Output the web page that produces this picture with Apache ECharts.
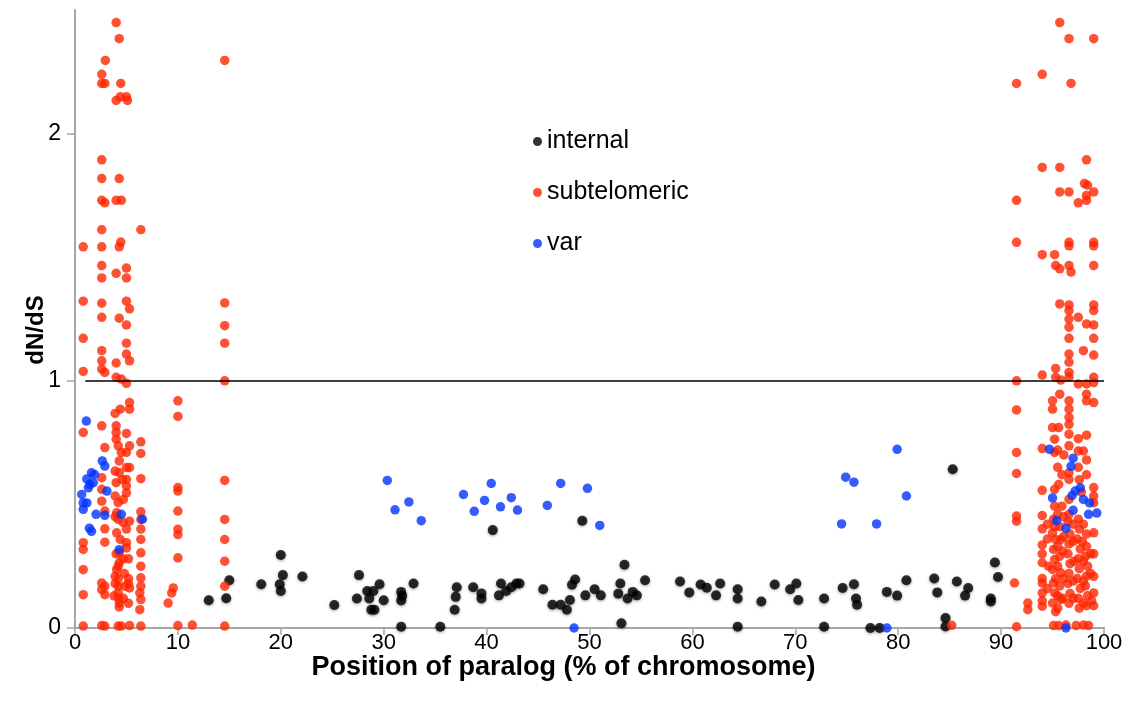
<!DOCTYPE html>
<html>
<head>
<meta charset="utf-8">
<script src="https://cdn.jsdelivr.net/npm/echarts@6/dist/echarts.min.js"></script>
<style>
html,body{margin:0;padding:0;background:#fff;}
#chart{width:1133px;height:709px;}
</style>
</head>
<body>
<div id="chart"></div>
<script>
// ---- Data (x: position of paralog, % of chromosome; y: dN/dS) ----
var seriesNames = ['internal', 'subtelomeric', 'var'];
var xTicks = [0, 10, 20, 30, 40, 50, 60, 70, 80, 90, 100];
var yTicks = [0, 1, 2];
var thresholdLine = [[1, 1], [100, 1]];

var internalData = [
  [13.0,0.112],[14.7,0.12],[15.0,0.193],[18.1,0.177],[20.0,0.295],[20.2,0.214],[19.9,0.177],[20.0,0.15],[22.1,0.208],
  [25.2,0.093],[27.6,0.214],[27.4,0.119],[28.4,0.15],[29.0,0.15],[29.6,0.177],[28.6,0.119],[28.8,0.074],[29.1,0.074],
  [30.0,0.112],[31.7,0.146],[31.7,0.111],[31.8,0.13],[31.7,0.005],[32.9,0.18],[35.5,0.005],[37.1,0.165],[37.0,0.126],
  [36.9,0.074],[38.7,0.165],[39.5,0.14],[39.5,0.119],[40.6,0.396],[41.4,0.18],[41.2,0.132],[41.9,0.15],[42.4,0.165],
  [42.9,0.18],[43.2,0.18],[45.5,0.157],[46.4,0.094],[47.2,0.094],[47.8,0.074],[48.1,0.113],[48.3,0.175],[48.6,0.196],
  [49.3,0.434],[49.6,0.132],[50.5,0.157],[51.1,0.132],[52.8,0.139],[53.0,0.18],[53.4,0.256],[53.1,0.019],[53.7,0.119],
  [54.2,0.146],[54.6,0.132],[55.4,0.193],[58.8,0.188],[59.7,0.144],[60.8,0.176],[61.4,0.163],[62.3,0.132],[62.7,0.18],
  [64.4,0.157],[64.4,0.119],[64.4,0.005],[66.7,0.107],[68.0,0.176],[69.5,0.157],[70.1,0.18],[70.3,0.113],[72.8,0.119],
  [72.8,0.005],[74.6,0.162],[75.7,0.177],[75.9,0.119],[76.0,0.094],[77.3,0.0],[78.2,0.0],[78.9,0.146],[79.9,0.131],
  [80.8,0.193],[83.5,0.2],[83.8,0.144],[84.6,0.04],[84.6,0.006],[85.3,0.642],[85.7,0.188],[86.8,0.162],[86.5,0.131],
  [89.0,0.119],[89.0,0.107],[89.4,0.265],[89.7,0.206]
];

var subtelomericData = [
  // left end of chromosome
  [4.0,2.449],[4.3,2.384],[2.95,2.296],[14.55,2.296],[2.6,2.24],[2.6,2.203],[2.9,2.203],[4.45,2.203],[4.0,2.134],
  [4.4,2.149],[5.0,2.149],[5.1,2.134],[2.6,1.894],[2.6,1.818],[4.3,1.818],[2.6,1.73],[2.9,1.72],[4.0,1.73],[4.5,1.73],
  [2.6,1.611],[6.4,1.611],[0.8,1.542],[2.6,1.542],[4.3,1.542],[4.45,1.561],[2.6,1.466],[2.6,1.416],[4.0,1.435],
  [5.0,1.456],[5.0,1.416],[0.8,1.322],[2.6,1.314],[5.0,1.322],[5.3,1.291],[14.55,1.315],[2.6,1.257],[4.3,1.253],
  [5.0,1.226],[14.55,1.223],[0.8,1.172],[14.55,1.152],[5.0,1.152],[2.6,1.122],[2.6,1.081],[5.0,1.108],[5.3,1.081],
  [4.0,1.072],[0.8,1.038],[2.6,1.047],[2.9,1.034],[4.0,1.014],[4.5,1.007],[5.0,0.99],[14.55,1.0],[5.3,0.912],
  [5.3,0.885],[10.0,0.919],[10.0,0.856],[4.4,0.885],[3.9,0.868],[2.6,0.818],[0.8,0.791],[4.0,0.818],[4.0,0.791],
  [5.0,0.787],[4.0,0.764],[4.2,0.737],[5.3,0.737],[6.4,0.753],[6.4,0.706],[2.9,0.73],[5.0,0.71],[4.5,0.71],
  [4.3,0.676],[5.0,0.649],[5.3,0.649],[3.9,0.635],[4.3,0.628],[6.4,0.604],[5.0,0.601],[2.6,0.608],[4.0,0.588],
  [5.0,0.574],[5.0,0.547],[2.6,0.561],[10.0,0.568],[10.0,0.554],[14.55,0.597],[3.9,0.534],[4.2,0.507],[2.6,0.513],
  [2.9,0.473],[4.05,0.466],[4.2,0.439],[4.7,0.426],[5.3,0.432],[10.0,0.473],[6.4,0.439],[14.55,0.439],[2.9,0.401],
  [4.05,0.385],[4.4,0.358],[5.0,0.345],[5.0,0.324],[10.0,0.399],[10.0,0.378],[2.9,0.347],[0.8,0.345],[0.8,0.318],
  [6.4,0.358],[6.4,0.304],[14.55,0.358],[14.55,0.27],[10.0,0.284],[4.3,0.304],[4.3,0.264],[4.05,0.236],[3.9,0.209],
  [0.8,0.236],[2.6,0.182],[2.9,0.169],[2.6,0.155],[2.9,0.135],[3.9,0.18],[4.2,0.169],[4.85,0.169],[5.3,0.162],
  [4.2,0.142],[4.3,0.101],[6.4,0.203],[6.4,0.169],[6.3,0.142],[6.4,0.115],[6.3,0.074],[0.8,0.135],[9.55,0.162],
  [9.4,0.142],[9.05,0.101],[14.55,0.169],[4.2,0.25],[4.2,0.2],[4.25,0.12],[4.3,0.085],[5.2,0.2],[5.2,0.18],
  [6.4,0.47],[6.4,0.4],[6.4,0.25],
  [4.6,0.6],[4.7,0.52],[4.7,0.28],[4.8,0.22],[4.7,0.12],[5.0,0.4],[5.2,0.28],[5.2,0.1],[3.9,0.45],[4.0,0.3],[3.8,0.13],
  [0.8,0.008],[2.6,0.01],[2.9,0.008],[4.2,0.008],[4.5,0.008],[5.3,0.01],[6.4,0.008],[10.0,0.01],[11.4,0.012],[14.55,0.008],
  [85.2,0.011],
  // right end of chromosome
  [95.7,2.449],[96.6,2.384],[99.0,2.384],[94.0,2.24],[91.5,2.203],[96.8,2.203],[98.3,1.894],[94.0,1.863],[95.7,1.863],
  [98.1,1.798],[98.4,1.791],[91.5,1.73],[95.7,1.764],[96.6,1.764],[99.0,1.764],[98.3,1.75],[97.5,1.72],[98.3,1.73],
  [91.5,1.56],[96.6,1.56],[96.6,1.546],[99.0,1.56],[99.0,1.546],[94.0,1.51],[95.2,1.51],[95.3,1.466],[95.7,1.453],
  [96.6,1.466],[96.8,1.44],[99.0,1.466],[95.7,1.311],[96.6,1.307],[96.6,1.284],[97.5,1.257],[96.6,1.25],[98.3,1.23],
  [99.0,1.307],[99.0,1.284],[99.0,1.226],[96.6,1.217],[96.6,1.172],[99.0,1.172],[98.0,1.122],[96.6,1.108],[96.6,1.075],
  [99.0,1.104],[95.3,1.05],[94.0,1.023],[95.3,1.014],[95.8,1.003],[96.6,1.034],[96.6,1.014],[97.5,0.987],[98.3,0.987],
  [99.0,1.014],[99.0,0.993],[91.5,1.0],[95.7,0.946],[95.0,0.919],[95.0,0.885],[96.6,0.919],[96.6,0.885],[96.6,0.852],
  [96.6,0.824],[98.3,0.946],[98.3,0.919],[99.0,0.912],[91.5,0.882],[95.0,0.811],[95.6,0.811],[96.6,0.784],[97.5,0.766],
  [98.3,0.78],[95.2,0.764],[95.2,0.71],[94.0,0.726],[96.6,0.737],[97.5,0.716],[98.0,0.716],[91.5,0.71],[91.5,0.625],
  [96.6,0.628],[96.6,0.601],[95.6,0.581],[95.2,0.561],[95.2,0.493],[94.0,0.557],[99.0,0.568],[99.0,0.534],[99.0,0.507],
  [96.6,0.52],[95.9,0.493],[91.5,0.453],[91.5,0.432],[94.0,0.455],[94.0,0.401],
  [95.5,0.65],[95.5,0.72],[97.5,0.65],[97.6,0.6],[98.3,0.62],[98.3,0.68],[97.8,0.55],[96.1,0.7],[95.9,0.62],
  [95.1,0.44],[95.2,0.41],[95.0,0.385],[95.3,0.358],[95.1,0.318],[95.2,0.277],[95.0,0.237],[95.3,0.2],[95.1,0.182],
  [95.2,0.142],[95.0,0.101],[95.3,0.066],
  [95.7,0.41],[95.8,0.358],[95.7,0.29],[95.8,0.223],[95.7,0.17],[95.8,0.115],
  [96.6,0.46],[96.5,0.43],[96.7,0.38],[96.6,0.34],[96.5,0.3],[96.7,0.26],[96.6,0.22],[96.5,0.18],[96.7,0.14],[96.6,0.1],
  [97.5,0.44],[97.6,0.4],[97.4,0.36],[97.7,0.32],[97.5,0.28],[97.6,0.24],[97.4,0.2],[97.7,0.16],[97.5,0.12],[97.6,0.08],
  [98.3,0.38],[98.3,0.33],[98.2,0.29],[98.4,0.25],[98.3,0.21],[98.2,0.17],[98.4,0.13],[98.3,0.09],
  [99.0,0.385],[99.0,0.209],[99.0,0.142],
  [94.0,0.336],[94.0,0.3],[94.0,0.264],[94.0,0.2],[94.0,0.182],[94.0,0.142],[94.0,0.11],[94.0,0.088],
  [94.5,0.42],[94.5,0.36],[94.6,0.25],[94.5,0.16],
  [95.5,0.46],[95.5,0.33],[95.5,0.25],[95.5,0.13],[95.5,0.08],
  [96.1,0.45],[96.1,0.37],[96.0,0.31],[96.1,0.2],[96.0,0.12],
  [97.0,0.42],[97.0,0.35],[97.1,0.27],[97.0,0.19],[97.0,0.12],
  [98.0,0.42],[97.9,0.35],[98.0,0.27],[98.0,0.19],[98.0,0.1],
  [98.7,0.3],[98.7,0.22],[98.8,0.11],[99.0,0.3],[99.0,0.09],
  [91.3,0.182],[92.6,0.101],[92.6,0.074],
  [91.5,0.005],[95.1,0.01],[95.6,0.01],[96.3,0.012],[97.3,0.01],[98.0,0.012],[98.5,0.01]
];

var varData = [
  [1.1,0.837],[2.65,0.676],[2.9,0.655],[1.6,0.628],[1.9,0.621],[1.15,0.603],[1.45,0.581],[1.78,0.588],[1.3,0.567],
  [3.1,0.554],[0.65,0.54],[0.8,0.506],[1.15,0.506],[0.8,0.48],[2.05,0.46],[2.9,0.456],[4.5,0.46],[6.55,0.44],
  [1.4,0.404],[1.6,0.391],[4.3,0.317],
  [30.35,0.597],[31.1,0.478],[32.45,0.51],[33.65,0.434],[37.75,0.54],[38.8,0.472],[39.8,0.516],[40.45,0.585],
  [41.35,0.49],[42.4,0.527],[43.0,0.477],[45.9,0.496],[47.2,0.585],[49.8,0.565],[51.0,0.415],[48.5,0.0],
  [74.9,0.61],[75.7,0.59],[79.9,0.723],[80.8,0.534],[74.5,0.421],[77.9,0.421],[78.9,0.0],
  [94.7,0.723],[97.0,0.687],[96.8,0.654],[97.7,0.567],[97.2,0.554],[96.9,0.536],[95.0,0.526],[98.0,0.52],[98.6,0.506],
  [98.5,0.46],[99.3,0.465],[97.0,0.476],[95.4,0.434],[96.3,0.403],[96.3,0.0]
];

var colors = { internal: '#000000', subtelomeric: '#ff2600', 'var': '#0433ff' };

var chart = echarts.init(document.getElementById('chart'), null, { renderer: 'canvas' });
var fontFam = '"Liberation Sans", Arial, Helvetica, sans-serif';
var tickFam = '"Liberation Sans Narrow", "Liberation Sans", Arial, sans-serif';

var option = {
  animation: false,
  backgroundColor: '#ffffff',
  grid: { left: 75, right: 29, top: 10, bottom: 81, containLabel: false },
  legend: {
    orient: 'vertical',
    left: 533, top: 129,
    padding: 0,
    itemGap: 26,
    itemWidth: 9, itemHeight: 9,
    icon: 'circle',
    data: seriesNames,
    textStyle: { fontFamily: fontFam, fontSize: 25, color: '#000' }
  },
  xAxis: {
    type: 'value', min: 0, max: 100, interval: 10,
    name: 'Position of paralog (% of chromosome)',
    nameLocation: 'middle', nameGap: 26, nameMoveOverlap: false,
    nameTextStyle: { fontFamily: fontFam, fontSize: 27, fontWeight: 'bold', color: '#000',
      padding: [0, 52, 0, 0] },
    axisLine: { show: true, lineStyle: { color: '#a6a6a6', width: 2 } },
    axisTick: { show: true, length: 7, inside: false, lineStyle: { color: '#a6a6a6', width: 1.5 } },
    axisLabel: { margin: 4, fontFamily: tickFam, fontSize: 22, color: '#000',
      customValues: xTicks },
    splitLine: { show: false }
  },
  yAxis: {
    type: 'value', min: 0, max: 2.5, interval: 1,
    name: 'dN/dS',
    nameLocation: 'middle', nameGap: 27, nameRotate: 90, nameMoveOverlap: false,
    nameTextStyle: { fontFamily: fontFam, fontSize: 24, fontWeight: 'bold', color: '#000',
      padding: [0, 22, 0, 0] },
    axisLine: { show: true, lineStyle: { color: '#a6a6a6', width: 2 } },
    axisTick: { show: true, length: 8, inside: false, lineStyle: { color: '#a6a6a6', width: 1.5 },
      customValues: yTicks },
    axisLabel: { margin: 14, fontFamily: tickFam, fontSize: 23, color: '#000',
      customValues: yTicks },
    splitLine: { show: false }
  },
  series: [
    {
      name: 'internal', type: 'scatter', symbol: 'circle', symbolSize: 10,
      data: internalData, z: 2,
      itemStyle: { color: colors.internal, shadowBlur: 3, shadowColor: 'rgba(0,0,0,0.45)', shadowOffsetY: 1 },
      markLine: {
        silent: true, symbol: ['none', 'none'],
        label: { show: false },
        lineStyle: { color: '#000', width: 1.5, type: 'solid' },
        data: [[{ coord: thresholdLine[0] }, { coord: thresholdLine[1] }]]
      }
    },
    {
      name: 'subtelomeric', type: 'scatter', symbol: 'circle', symbolSize: 9.5,
      data: subtelomericData, z: 3,
      itemStyle: { color: colors.subtelomeric }
    },
    {
      name: 'var', type: 'scatter', symbol: 'circle', symbolSize: 9.5,
      data: varData, z: 4,
      itemStyle: { color: colors['var'] }
    }
  ]
};
chart.setOption(option);
</script>
</body>
</html>
